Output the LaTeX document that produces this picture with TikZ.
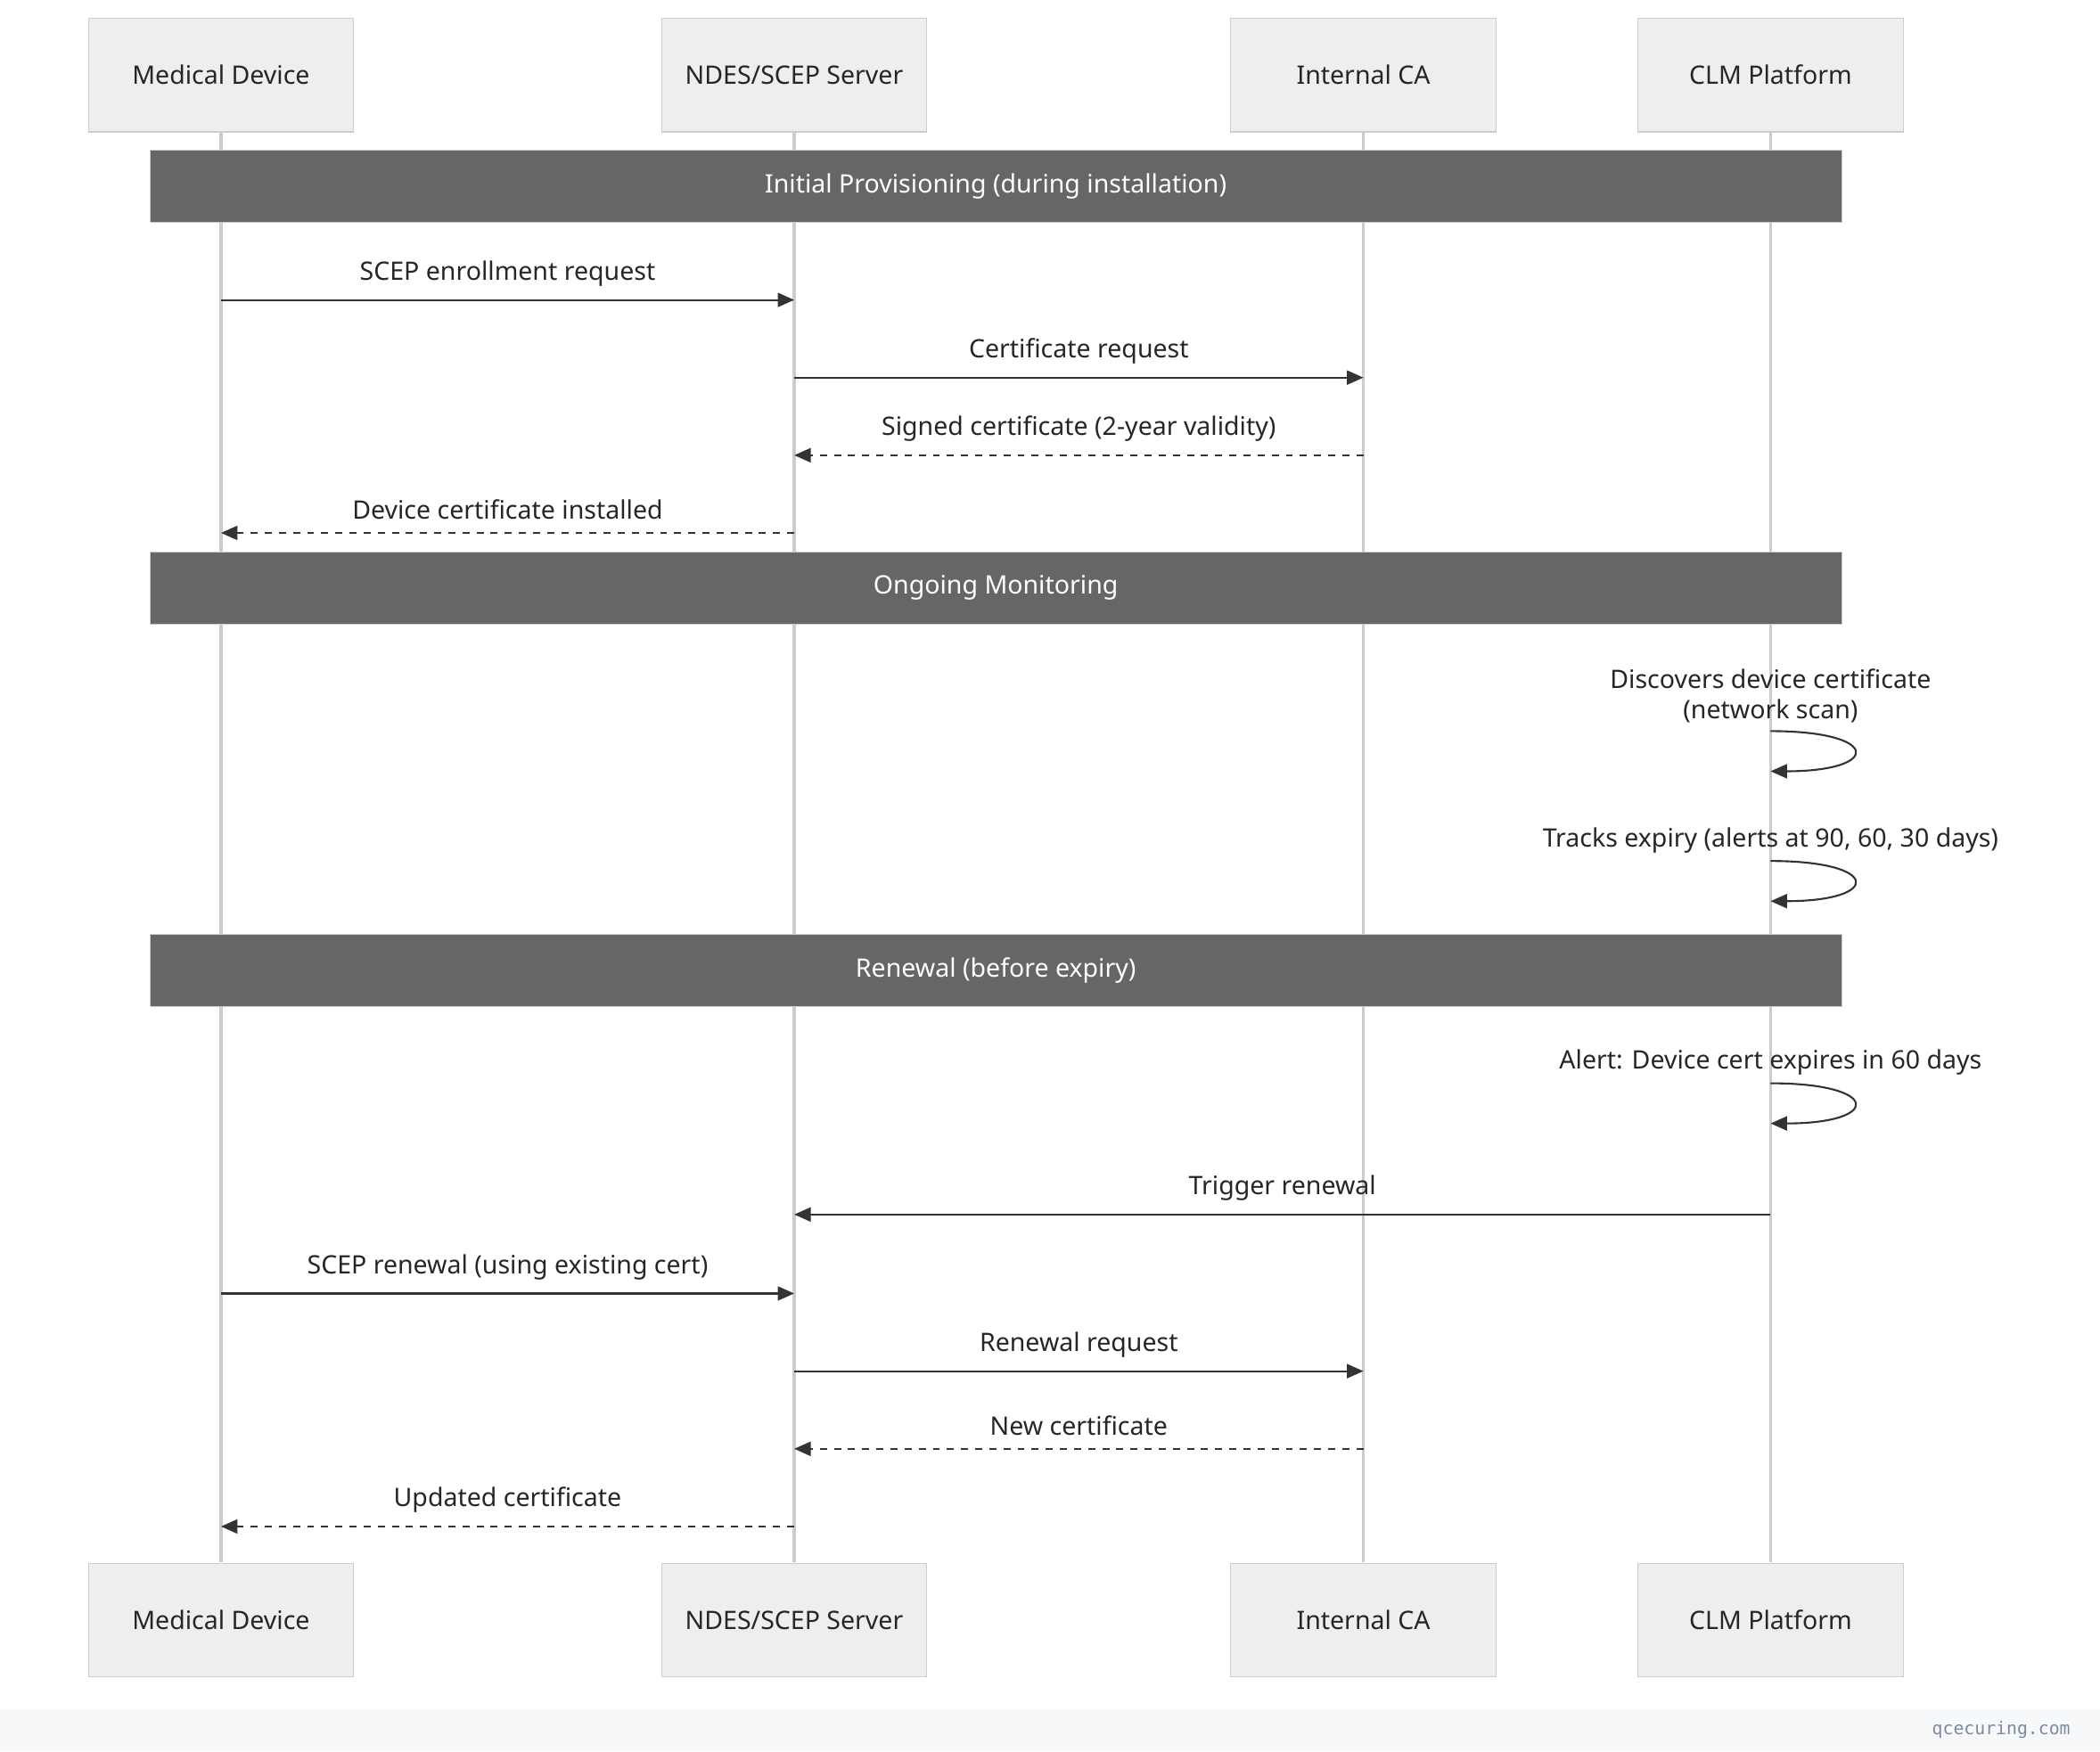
\documentclass[tikz,border=0pt]{standalone}
\usepackage{fontspec}
\setmainfont{Noto Sans}
\newfontfamily\footfont{DejaVu Sans Mono}
\usetikzlibrary{arrows.meta}
\definecolor{boxfill}{HTML}{EEEEEE}
\definecolor{boxline}{HTML}{CCCCCC}
\definecolor{barfill}{HTML}{666666}
\definecolor{msgline}{HTML}{333333}
\definecolor{footfill}{HTML}{F7F8FA}
\definecolor{foottext}{HTML}{7A8BA0}
\tikzset{
  actor/.style={draw=boxline, fill=boxfill, minimum width=198*0.02cm, minimum height=85*0.02cm, font=\fontsize{10.8}{13}\selectfont, text=black!85},
  phase/.style={draw=boxline, fill=barfill, text=white, minimum width=1263*0.02cm, minimum height=54*0.02cm, font=\fontsize{10.8}{13}\selectfont},
  life/.style={draw=boxline, line width=1.2pt},
  msg/.style={draw=msgline, line width=0.8pt, -{Triangle[length=7pt,width=6pt]}},
  reply/.style={msg, dashed},
  lbl/.style={font=\fontsize{10.8}{13}\selectfont, text=black!85, align=center}
}
\begin{document}
\begin{tikzpicture}[x=0.02cm, y=-0.02cm]
  \useasboundingbox (0,0) rectangle (1568,1308);
  % footer
  \fill[footfill] (0,1276) rectangle (1568,1308);
  \node[anchor=east, font=\footfont\fontsize{7.5}{9}\selectfont, text=foottext] (foot) at (1552,1292) {qcecuring.com};
  % lifelines
  \foreach \n/\x in {dev/165, ndes/593, ca/1018, clm/1322}{
    \coordinate (\n top) at (\x,98);
    \coordinate (\n bot) at (\x,1167);
    \draw[life] (\n top) -- (\n bot);
  }
  % actors
  \foreach \n/\x/\t in {dev/165/{Medical Device}, ndes/593/{NDES/SCEP Server}, ca/1018/{Internal CA}, clm/1322/{CLM Platform}}{
    \node[actor] (\n A) at (\x,56) {\t};
    \node[actor] (\n B) at (\x,1210) {\t};
  }
  % phases
  \node[phase] (p1) at (743.5,139) {Initial Provisioning (during installation)};
  \node[phase] (p2) at (743.5,439) {Ongoing Monitoring};
  \node[phase] (p3) at (743.5,725) {Renewal (before expiry)};
  % message anchors
  \foreach \n/\x in {dev/165, ndes/593, ca/1018, clm/1322}
    \foreach \y in {224,282,340,398,907,966,1024,1082,1140}
      \coordinate (\n\y) at (\x,\y);
  % initial provisioning
  \draw[msg] (dev224) -- node[lbl, above=2pt] {SCEP enrollment request} (ndes224);
  \draw[msg] (ndes282) -- node[lbl, above=2pt] {Certificate request} (ca282);
  \draw[reply] (ca340) -- node[lbl, above=2pt] {Signed certificate (2-year validity)} (ndes340);
  \draw[reply] (ndes398) -- node[lbl, above=2pt] {Device certificate installed} (dev398);
  % self messages
  \foreach \y/\t in {546/{Discovers device certificate\\(network scan)}, 643/{Tracks expiry (alerts at 90, 60, 30 days)}, 809/{Alert: Device cert expires in 60 days}}{
    \coordinate (s\y) at (1322,\y);
    \coordinate (e\y) at (1322,\y+30);
    \node[lbl, anchor=south, inner sep=1pt] (t\y) at (1322,\y-4) {\t};
    \draw[msg] (s\y) .. controls (1405,\y) and (1405,\y+30) .. (e\y);
  }
  % renewal
  \draw[msg] (clm907) -- node[lbl, above=2pt] {Trigger renewal} (ndes907);
  \draw[msg] (dev966) -- node[lbl, above=2pt] {SCEP renewal (using existing cert)} (ndes966);
  \draw[msg] (ndes1024) -- node[lbl, above=2pt] {Renewal request} (ca1024);
  \draw[reply] (ca1082) -- node[lbl, above=2pt] {New certificate} (ndes1082);
  \draw[reply] (ndes1140) -- node[lbl, above=2pt] {Updated certificate} (dev1140);
\end{tikzpicture}
\end{document}
